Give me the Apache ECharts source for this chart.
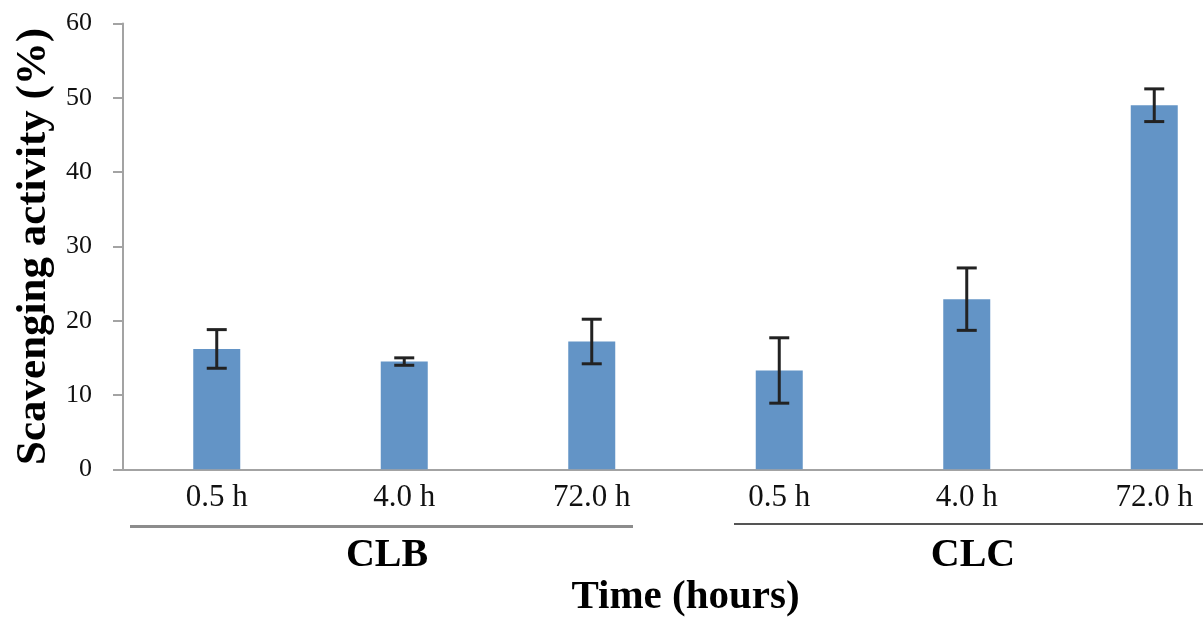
<!DOCTYPE html>
<html>
<head>
<meta charset="utf-8">
<script src="https://cdn.jsdelivr.net/npm/echarts@6/dist/echarts.min.js"></script>
<style>
html,body{margin:0;padding:0;background:#fff;}
#chart{width:1203px;height:622px;}
</style>
</head>
<body>
<div id="chart"></div>
<script>
// ---- data ----
const categories = ['0.5 h', '4.0 h', '72.0 h', '0.5 h', '4.0 h', '72.0 h'];
const groups = ['CLB', 'CLC'];
const values = [16.2, 14.5, 17.2, 13.3, 22.9, 49.0];
const errors = [2.6, 0.5, 3.0, 4.4, 4.2, 2.2];
const yTicks = [0, 10, 20, 30, 40, 50, 60];

const FONT = '"Liberation Serif", "Times New Roman", serif';
const chart = echarts.init(document.getElementById('chart'));

const errData = values.map((v, i) => [i, v - errors[i], v + errors[i]]);

chart.setOption({
  animation: false,
  backgroundColor: '#ffffff',
  grid: { left: 123, top: 23.5, bottom: 152.7, right: -45, outerBoundsMode: 'none', containLabel: false },
  xAxis: {
    type: 'category',
    data: categories,
    axisLine: { show: true, lineStyle: { color: '#a3a3a3', width: 2 } },
    axisTick: { show: false },
    axisLabel: { fontFamily: FONT, fontSize: 31, color: '#111', margin: 13, interval: 0 },
    name: 'Time (hours)',
    nameLocation: 'middle',
    nameGap: 108,
    nameTextStyle: { fontFamily: FONT, fontSize: 41, fontWeight: 'bold', color: '#000' }
  },
  yAxis: {
    type: 'value',
    min: yTicks[0],
    max: yTicks[yTicks.length - 1],
    interval: 10,
    splitLine: { show: false },
    axisLine: { show: true, lineStyle: { color: '#a3a3a3', width: 2 } },
    axisTick: { show: true, inside: false, length: 10, lineStyle: { color: '#a3a3a3', width: 2 } },
    axisLabel: { fontFamily: FONT, fontSize: 26, color: '#111', margin: 31 },
    name: 'Scavenging activity (%)',
    nameLocation: 'middle',
    nameGap: 68,
    nameTextStyle: { fontFamily: FONT, fontSize: 43, fontWeight: 'bold', color: '#000' }
  },
  series: [
    {
      type: 'bar',
      data: values,
      barWidth: 47,
      itemStyle: { color: '#6394c6' }
    },
    {
      type: 'custom',
      data: errData,
      z: 10,
      renderItem: function (params, api) {
        const x = api.value(0);
        const lo = api.coord([x, api.value(1)]);
        const hi = api.coord([x, api.value(2)]);
        const half = 10;
        const style = { stroke: '#222', lineWidth: 3 };
        return {
          type: 'group',
          children: [
            { type: 'line', shape: { x1: hi[0], y1: hi[1], x2: lo[0], y2: lo[1] }, style: style },
            { type: 'line', shape: { x1: hi[0] - half, y1: hi[1], x2: hi[0] + half, y2: hi[1] }, style: style },
            { type: 'line', shape: { x1: lo[0] - half, y1: lo[1], x2: lo[0] + half, y2: lo[1] }, style: style }
          ]
        };
      }
    }
  ],
  graphic: [
    { type: 'line', shape: { x1: 130, y1: 526.5, x2: 633, y2: 526.5 }, style: { stroke: '#8c8c8c', lineWidth: 3 } },
    { type: 'line', shape: { x1: 734, y1: 524, x2: 1203, y2: 524 }, style: { stroke: '#555', lineWidth: 2 } },
    { type: 'text', x: 387, y: 556, style: { text: groups[0], font: 'bold 40px ' + FONT, fill: '#000', textAlign: 'center', textVerticalAlign: 'middle' } },
    { type: 'text', x: 973, y: 556, style: { text: groups[1], font: 'bold 40px ' + FONT, fill: '#000', textAlign: 'center', textVerticalAlign: 'middle' } }
  ]
});
</script>
</body>
</html>
